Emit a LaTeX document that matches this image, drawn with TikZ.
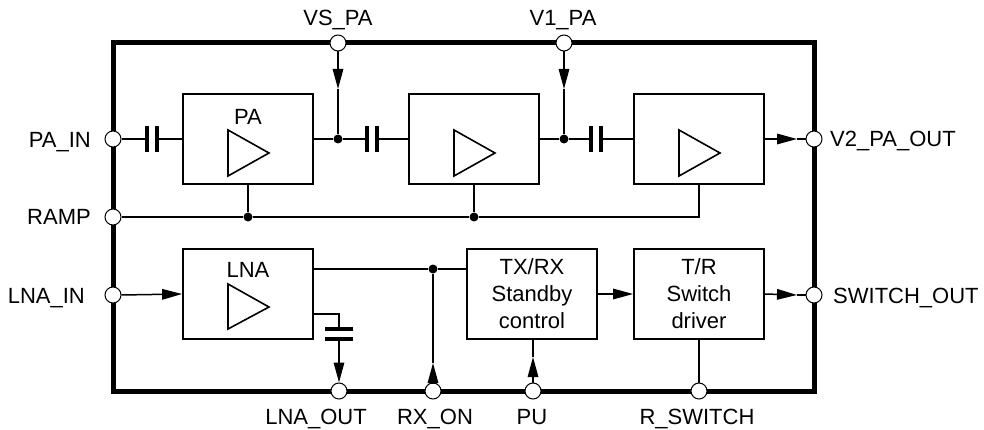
\documentclass[tikz,border=0pt]{standalone}
\usepackage{fontspec}
\setmainfont{Liberation Sans}
\usetikzlibrary{arrows.meta,calc}
\begin{document}
\begin{tikzpicture}[x=1pt,y=-1pt,
  pin/.style={circle,draw,fill=white,line width=1pt,inner sep=0pt,minimum size=16pt},
  blk/.style={draw,line width=1.8pt,minimum width=130pt,minimum height=90pt,inner sep=0pt},
  jdot/.style={circle,fill,inner sep=0pt,minimum size=9pt},
  wire/.style={line width=1.5pt},
  arr/.style={wire,-{Triangle[length=20pt,width=10.5pt]}},
  plate/.style={line width=3.2pt},
  lbl/.style={font=\fontsize{22}{27}\selectfont,inner sep=0pt},
  amp/.style={line width=1.6pt,line join=miter},
  ]
\useasboundingbox (0,0) rectangle (984,430);
% frame
\draw[line width=5pt] (113,43) rectangle (814,391);
% blocks
\node[blk] (pa) at (248,139) {};
\node[blk] (pa2) at (474,139) {};
\node[blk] (pa3) at (699,139) {};
\node[blk] (lna) at (248,294) {};
\node[blk,lbl,align=center] (trx) at (532,294) {TX/RX\\Standby\\control};
\node[blk,lbl,align=center] (trs) at (699,294) {T/R\\Switch\\driver};
\node[lbl] (palbl) at (248,117) {PA};
\node[lbl] (lnalbl) at (248,270) {LNA};
% amplifier triangles
\foreach \b in {pa,pa2,pa3}{
  \draw[amp] ($(\b)+(-20,-9)$) -- ($(\b)+(-20,37)$) -- ($(\b)+(21,14)$) -- cycle;
}
\draw[amp] ($(lna)+(-20,-10)$) -- ($(lna)+(-20,35)$) -- ($(lna)+(21,13)$) -- cycle;
% junction dots
\node[jdot] (j1) at (338,139) {};
\node[jdot] (j2) at (564,139) {};
\node[jdot] (r1) at (248,217) {};
\node[jdot] (r2) at (474,217) {};
\node[jdot] (j3) at (433,269) {};
% coordinates
\coordinate (c1a) at (147,139); \coordinate (c1b) at (157,139);
\coordinate (c2a) at (367,139); \coordinate (c2b) at (377,139);
\coordinate (c3a) at (591,139); \coordinate (c3b) at (601,139);
\coordinate (vsm) at (338,89);
\coordinate (v1m) at (564,89);
\coordinate (outm) at (797,139);
\coordinate (swm) at (797,295);
\coordinate (rampend) at (699,217);
\coordinate (lnaR) at (313,314);
\coordinate (lnaC) at (339,314);
\coordinate (lp1) at (339,329);
\coordinate (lp2) at (339,339);
\coordinate (rxm) at (433,363);
\coordinate (pum) at (533,357);
% pins
\node[pin] (vs) at (338,43) {};
\node[pin] (v1) at (564,43) {};
\node[pin] (pain) at (113,139) {};
\node[pin] (ramp) at (113,217) {};
\node[pin] (lnain) at (113,295) {};
\node[pin] (v2out) at (814,139) {};
\node[pin] (swout) at (814,295) {};
\node[pin] (lnaout) at (339,391) {};
\node[pin] (rxon) at (433,391) {};
\node[pin] (pu) at (533,391) {};
\node[pin] (rsw) at (699,391) {};
% PA chain
\draw[wire] (pain.east) -- (c1a);
\draw[plate] ($(c1a)+(0,-13)$) -- ($(c1a)+(0,13)$);
\draw[plate] ($(c1b)+(0,-13)$) -- ($(c1b)+(0,13)$);
\draw[wire] (c1b) -- (pa.west);
\draw[wire] (pa.east) -- (j1) -- (c2a);
\draw[plate] ($(c2a)+(0,-13)$) -- ($(c2a)+(0,13)$);
\draw[plate] ($(c2b)+(0,-13)$) -- ($(c2b)+(0,13)$);
\draw[wire] (c2b) -- (pa2.west);
\draw[wire] (pa2.east) -- (j2) -- (c3a);
\draw[plate] ($(c3a)+(0,-13)$) -- ($(c3a)+(0,13)$);
\draw[plate] ($(c3b)+(0,-13)$) -- ($(c3b)+(0,13)$);
\draw[wire] (c3b) -- (pa3.west);
\draw[arr] (pa3.east) -- (outm);
\draw[wire] (outm) -- (v2out.west);
\draw[arr] (vs.south) -- (vsm);
\draw[wire] (vsm) -- (j1);
\draw[arr] (v1.south) -- (v1m);
\draw[wire] (v1m) -- (j2);
% RAMP
\draw[wire] (ramp.east) -- (r1) -- (r2) -- (rampend) -- (pa3.south);
\draw[wire] (pa.south) -- (r1);
\draw[wire] (pa2.south) -- (r2);
% LNA
\draw[arr] (lnain.east) -- (lna.west);
\draw[wire] (lna.east |- j3) -- (j3) -- (trx.west |- j3);
\draw[arr] (rxon.north) -- (rxm);
\draw[wire] (rxm) -- (j3);
\draw[wire] (lnaR) -- (lnaC) -- ($(lp1)+(0,-2)$);
\draw[plate] ($(lp1)+(-14,0)$) -- ($(lp1)+(14,0)$);
\draw[plate] ($(lp2)+(-14,0)$) -- ($(lp2)+(14,0)$);
\draw[arr] (lp2) -- (lnaout.north);
\draw[arr] (trx.east) -- (trs.west);
\draw[arr] (trs.east) -- (swm);
\draw[wire] (swm) -- (swout.west);
\draw[arr] (pu.north) -- (pum);
\draw[wire] (pum) -- (pu |- trx.south);
\draw[wire] (rsw.north) -- (trs.south);
% pin labels
\node[lbl,anchor=base] at (338,26) {VS\_PA};
\node[lbl,anchor=base] at (563,26) {V1\_PA};
\node[lbl,anchor=base east] at (91,148) {PA\_IN};
\node[lbl,anchor=base east] at (91,225) {RAMP};
\node[lbl,anchor=base east] at (85,303) {LNA\_IN};
\node[lbl,anchor=base west] at (830,147) {V2\_PA\_OUT};
\node[lbl,anchor=base west] at (833,303) {SWITCH\_OUT};
\node[lbl,anchor=base] at (316,424) {LNA\_OUT};
\node[lbl,anchor=base] at (435,424) {RX\_ON};
\node[lbl,anchor=base] at (532,424) {PU};
\node[lbl,anchor=base] at (697,424) {R\_SWITCH};
\end{tikzpicture}
\end{document}
